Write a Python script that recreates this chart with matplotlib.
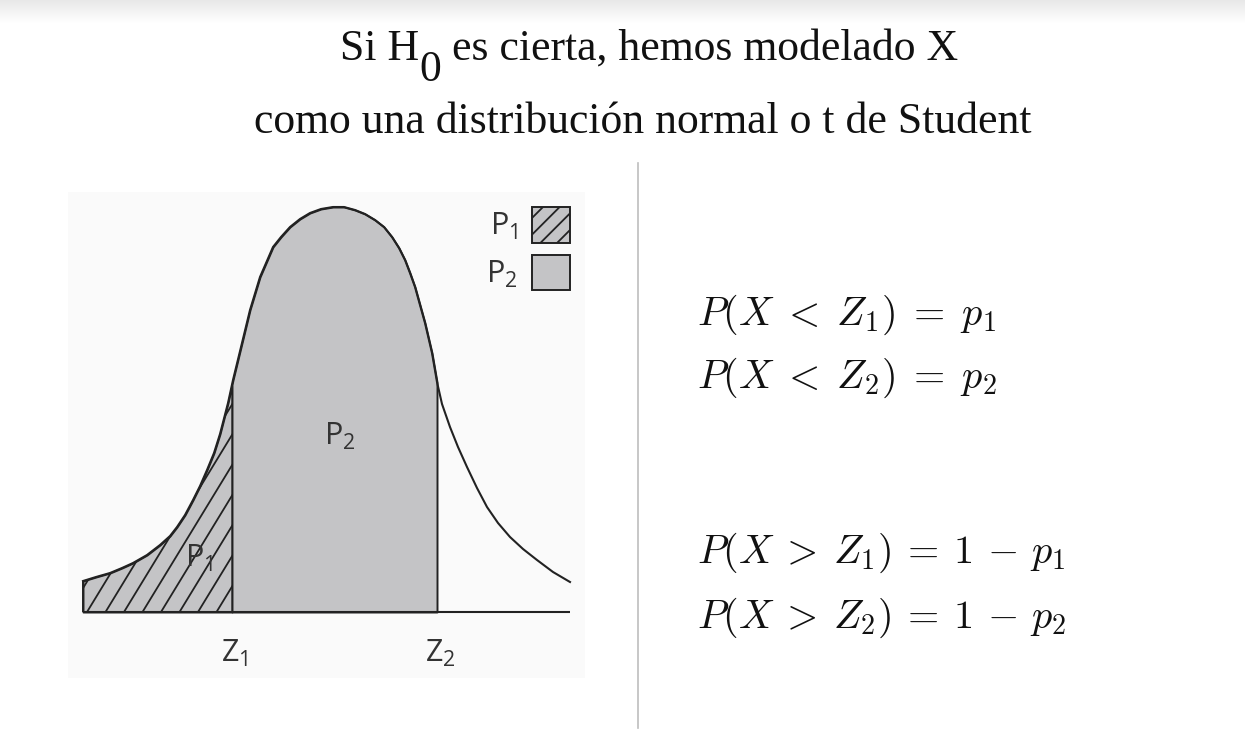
import numpy as np
import matplotlib.pyplot as plt
from matplotlib.patches import Patch
from matplotlib.lines import Line2D
from matplotlib.text import Annotation
from matplotlib.collections import LineCollection
from matplotlib.font_manager import FontProperties

# curva (x en desviaciones, y = densidad)
curve_x = [-2.53, -2.40, -2.26, -2.14, -2.03, -1.89, -1.76, -1.66, -1.59, -1.51,
           -1.43, -1.36, -1.29, -1.22, -1.16, -1.08, -1.03, -0.94, -0.86, -0.76,
           -0.63, -0.55, -0.46, -0.36, -0.26, -0.15, -0.03, 0.08, 0.19, 0.29,
           0.39, 0.48, 0.56, 0.63, 0.69, 0.74, 0.79, 0.89, 0.96, 1.01,
           1.06, 1.14, 1.22, 1.31, 1.41, 1.51, 1.62, 1.74, 1.87, 2.01,
           2.17, 2.34]
curve_y = [0.031, 0.035, 0.039, 0.044, 0.049, 0.057, 0.067, 0.076, 0.085, 0.097,
           0.112, 0.126, 0.142, 0.159, 0.178, 0.209, 0.232, 0.269, 0.302, 0.335,
           0.365, 0.375, 0.385, 0.393, 0.399, 0.403, 0.405, 0.405, 0.402, 0.398,
           0.392, 0.385, 0.375, 0.364, 0.352, 0.339, 0.325, 0.289, 0.259, 0.230,
           0.208, 0.185, 0.165, 0.145, 0.124, 0.105, 0.089, 0.075, 0.063, 0.052,
           0.040, 0.030]
z1, z2 = -1.04, 1.01
z_labels = [r'$\mathrm{Z}_1$', r'$\mathrm{Z}_2$']
legend_labels = [r'$\mathrm{P}_1$', r'$\mathrm{P}_2$']
equations = [r'$P(X \;<\; Z_1) \;=\; p_1$', r'$P(X \;<\; Z_2) \;=\; p_2$',
             r'$P(X \:>\: Z_1) \:=\: 1 \,-\, p_1$', r'$P(X \:>\: Z_2) \:=\: 1 \,-\, p_2$']

plt.rcParams['mathtext.rm'] = 'Open Sans'
plt.rcParams['mathtext.it'] = 'Open Sans:italic'
plt.rcParams['mathtext.bf'] = 'Open Sans:bold'
plt.rcParams['hatch.linewidth'] = 1.3

W, H = 1245, 747
fig = plt.figure(figsize=(W / 100, H / 100), dpi=100)

# sombra gris arriba (captura de pantalla)
sh = fig.add_axes([0, 1 - 24 / H, 1, 24 / H])
sh.imshow(np.linspace(0.91, 1.0, 50)[:, None], aspect='auto', cmap='gray',
          vmin=0, vmax=1, extent=[0, 1, 0, 1])
sh.axis('off')

# títulos
tkw = dict(fontfamily='Liberation Serif', fontsize=31.5, color='#111111')
t1 = fig.text(340 / W, 1 - 60 / H, 'Si H', ha='left', va='baseline', **tkw)
a0 = Annotation('0', xy=(1, 0), xycoords=t1, xytext=(0, -15), textcoords='offset points',
                ha='left', va='bottom', **tkw)
fig.add_artist(a0)
a1 = Annotation(' es cierta, hemos modelado X', xy=(1, 0), xycoords=a0, xytext=(0, 15),
                textcoords='offset points', ha='left', va='bottom', **tkw)
fig.add_artist(a1)
fig.text(643 / W, 1 - 133 / H, 'como una distribución normal o t de Student',
         ha='center', va='baseline', **tkw)

# panel con la curva
ax = fig.add_axes([68 / W, 1 - 678 / H, 517 / W, 486 / H])
ax.set_facecolor('#fafafa')
ax.set_xlim(-2.68, 2.49)
ax.set_ylim(-0.066, 0.420)
for s in ax.spines.values():
    s.set_visible(False)
ax.set_xticks([])
ax.set_yticks([])

cx = np.array(curve_x)
cy = np.array(curve_y)
y1 = np.interp(z1, cx, cy)
y2 = np.interp(z2, cx, cy)
fill_c = '#c4c4c6'
ink = '#222222'

m1 = cx < z1
p1 = ax.fill_between(np.r_[cx[m1], z1], 0, np.r_[cy[m1], y1],
                     facecolor=fill_c, edgecolor=ink, lw=1.4)
# rayado inclinado, recortado a la zona P1
step, slope, top = 0.185, 0.164, 0.45
starts = np.arange(-2.49 - 3 * step, z1, step)
hatch = LineCollection([[(s, 0), (s + top / slope, top)] for s in starts],
                       colors=ink, linewidths=1.3, zorder=1.5)
ax.add_collection(hatch, autolim=False)
hatch.set_clip_path(p1.get_paths()[0], p1.get_transform())

m2 = (cx > z1) & (cx < z2)
ax.fill_between(np.r_[z1, cx[m2], z2], 0, np.r_[y1, cy[m2], y2],
                facecolor=fill_c, edgecolor=ink, lw=1.4)
ax.plot(cx, cy, color=ink, lw=1.5, solid_joinstyle='round', zorder=2)
ax.hlines(0, cx[0], cx[-1], color=ink, lw=1.5, zorder=2)
ax.vlines(cx[0], 0, cy[0], color=ink, lw=1.4, zorder=2)

lkw = dict(fontsize=22, color='#333333', math_fontfamily='custom')
for z, lab in zip([z1, z2], z_labels):
    ax.text(z + 0.03, -0.05, lab, ha='center', va='baseline', **lkw)
ax.text(0.04, 0.167, legend_labels[1], ha='center', va='baseline', **lkw)
ax.text(-1.37, 0.045, legend_labels[0], ha='center', va='baseline', zorder=3, **lkw)

handles = [Patch(facecolor=fill_c, edgecolor=ink, hatch='//', lw=1.4, label=legend_labels[0]),
           Patch(facecolor=fill_c, edgecolor=ink, lw=1.4, label=legend_labels[1])]
ax.legend(handles=handles, loc='upper right', markerfirst=False, frameon=False,
          handlelength=1.25, handleheight=1.4, handletextpad=0.45, labelspacing=0.4,
          borderaxespad=0.1, labelcolor='#333333',
          prop=FontProperties(family='Open Sans', size=22, math_fontfamily='custom'))

# separador vertical
fig.add_artist(Line2D([638 / W, 638 / W], [1 - 163 / H, 1 - 728 / H],
                      transform=fig.transFigure, color='#bdbdbd', lw=1.2))

# ecuaciones
for eq, base in zip(equations, [325, 388, 563, 628]):
    fig.text(697 / W, 1 - base / H, eq, fontsize=29, color='#111111',
             math_fontfamily='cm', ha='left', va='baseline')

fig.savefig('out.png', dpi=100)
